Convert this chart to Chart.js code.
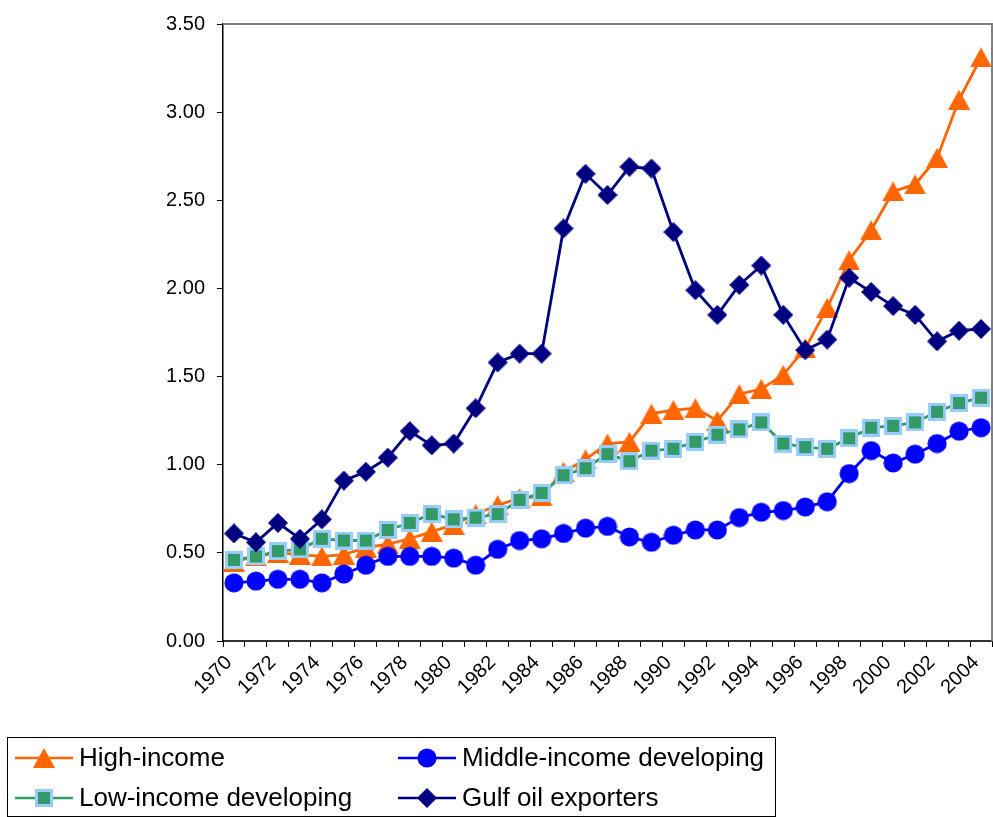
<!DOCTYPE html>
<html><head><meta charset="utf-8">
<script src="https://cdn.jsdelivr.net/npm/chart.js@4.4.0/dist/chart.umd.min.js"></script>
<style>html,body{margin:0;padding:0;background:#fff;}#wrap{width:993px;height:817px;}</style>
</head><body><div id="wrap"><canvas id="c" width="993" height="817"></canvas></div>
<script>
const years = ['1970','1971','1972','1973','1974','1975','1976','1977','1978','1979',
  '1980','1981','1982','1983','1984','1985','1986','1987','1988','1989',
  '1990','1991','1992','1993','1994','1995','1996','1997','1998','1999',
  '2000','2001','2002','2003','2004'];
const highIncome = [0.45,0.48,0.50,0.49,0.48,0.49,0.53,0.55,0.58,0.62,
  0.66,0.72,0.77,0.81,0.82,0.96,1.03,1.12,1.13,1.29,
  1.31,1.32,1.25,1.40,1.43,1.51,1.66,1.89,2.16,2.33,
  2.55,2.59,2.74,3.07,3.31];
const middleIncome = [0.33,0.34,0.35,0.35,0.33,0.38,0.43,0.48,0.48,0.48,
  0.47,0.43,0.52,0.57,0.58,0.61,0.64,0.65,0.59,0.56,
  0.60,0.63,0.63,0.70,0.73,0.74,0.76,0.79,0.95,1.08,
  1.01,1.06,1.12,1.19,1.21];
const lowIncome = [0.46,0.48,0.51,0.52,0.58,0.57,0.57,0.63,0.67,0.72,
  0.69,0.70,0.72,0.80,0.84,0.94,0.98,1.06,1.02,1.08,
  1.09,1.13,1.17,1.20,1.24,1.12,1.10,1.09,1.15,1.21,
  1.22,1.24,1.30,1.35,1.38];
const gulfOil = [0.61,0.56,0.67,0.58,0.69,0.91,0.96,1.04,1.19,1.11,
  1.12,1.32,1.58,1.63,1.63,2.34,2.65,2.53,2.69,2.68,
  2.32,1.99,1.85,2.02,2.13,1.85,1.65,1.71,2.06,1.98,
  1.90,1.85,1.70,1.76,1.77];
const seriesNames = ['High-income','Middle-income developing','Low-income developing','Gulf oil exporters'];
const yMin = 0, yMax = 3.5, yStep = 0.5;

const FONT = '"Liberation Sans", Arial, sans-serif';

function mk(w,h,draw){const c=document.createElement('canvas');c.width=w;c.height=h;draw(c.getContext('2d'));return c;}
const triImg = mk(22,20,x=>{x.fillStyle='#FF6600';x.beginPath();x.moveTo(11,0);x.lineTo(22,20);x.lineTo(0,20);x.closePath();x.fill();});
const circImg = mk(20,20,x=>{x.fillStyle='#0000FF';x.beginPath();x.arc(10,10,9.6,0,Math.PI*2);x.fill();});
const sqImg = mk(18,18,x=>{x.fillStyle='#99CCFF';x.fillRect(0,0,18,18);x.fillStyle='#339966';x.fillRect(3,3,12,12);});
const diaImg = mk(20,20,x=>{x.fillStyle='#000080';x.beginPath();x.moveTo(10,0);x.lineTo(20,10);x.lineTo(10,20);x.lineTo(0,10);x.closePath();x.fill();});

const framePlugin = {id:'frame', beforeDatasetsDraw(chart){
  const a=chart.chartArea, ctx=chart.ctx; ctx.save();
  ctx.strokeStyle='#808080'; ctx.lineWidth=2;
  ctx.beginPath(); ctx.moveTo(a.left, a.top); ctx.lineTo(a.right, a.top); ctx.lineTo(a.right, a.bottom); ctx.stroke();
  ctx.restore();
}};

const legendPlugin = {id:'boxLegend', afterDraw(chart){
  const ctx=chart.ctx; ctx.save();
  ctx.strokeStyle='#000'; ctx.lineWidth=1; ctx.strokeRect(7.5,737.5,768,79);
  const items=[
    {name:seriesNames[0], color:'#FF6600', img:triImg, x:15, y:758},
    {name:seriesNames[1], color:'#0000FF', img:circImg, x:398, y:758},
    {name:seriesNames[2], color:'#339966', img:sqImg, x:15, y:798},
    {name:seriesNames[3], color:'#000080', img:diaImg, x:398, y:798}
  ];
  items.forEach(it=>{
    ctx.strokeStyle=it.color; ctx.lineWidth=2.5;
    ctx.beginPath(); ctx.moveTo(it.x,it.y); ctx.lineTo(it.x+58,it.y); ctx.stroke();
    ctx.drawImage(it.img, Math.round(it.x+29-it.img.width/2), Math.round(it.y-it.img.height/2));
    ctx.fillStyle='#000'; ctx.font='26px '+FONT; ctx.textBaseline='middle'; ctx.textAlign='left';
    ctx.fillText(it.name, it.x+64, it.y+1);
  });
  ctx.restore();
}};

new Chart(document.getElementById('c'), {
  type:'line',
  data:{labels:years, datasets:[
    {label:seriesNames[0], data:highIncome, borderColor:'#FF6600', backgroundColor:'#FF6600', borderWidth:2.8, pointStyle:triImg, pointRadius:10, order:3},
    {label:seriesNames[1], data:middleIncome, borderColor:'#0000FF', backgroundColor:'#0000FF', borderWidth:2.8, pointStyle:circImg, pointRadius:10, order:1},
    {label:seriesNames[2], data:lowIncome, borderColor:'#339966', backgroundColor:'#339966', borderWidth:2.8, pointStyle:sqImg, pointRadius:10, order:2},
    {label:seriesNames[3], data:gulfOil, borderColor:'#000080', backgroundColor:'#000080', borderWidth:2.8, pointStyle:diaImg, pointRadius:10, order:0}
  ]},
  options:{
    responsive:false, animation:false, devicePixelRatio:1,
    layout:{autoPadding:false, padding:{top:19,right:1,left:0,bottom:0}},
    elements:{line:{tension:0}},
    plugins:{legend:{display:false}, tooltip:{enabled:false}, title:{display:false}},
    scales:{
      x:{type:'category', offset:true,
        grid:{offset:true, drawOnChartArea:false, drawTicks:true, tickLength:6, color:'#000', lineWidth:1},
        border:{display:true, color:'#333', width:2},
        ticks:{autoSkip:false, maxRotation:45, minRotation:45, padding:4, labelOffset:-5, color:'#000', font:{family:FONT, size:20},
          callback:(v,i)=> i%2===0 ? years[i] : ''},
        afterFit(s){ s.height=176; s.paddingLeft=0; s.paddingRight=0; }
      },
      y:{min:yMin, max:yMax,
        ticks:{stepSize:yStep, padding:12, color:'#000', font:{family:FONT, size:20}, callback:v=>Number(v).toFixed(2)},
        grid:{drawOnChartArea:false, drawTicks:true, tickLength:6, color:'#000'},
        border:{display:true, color:'#000', width:1.5},
        afterFit(s){ s.width=223; }
      }
    }
  },
  plugins:[framePlugin, legendPlugin]
});
</script></body></html>
